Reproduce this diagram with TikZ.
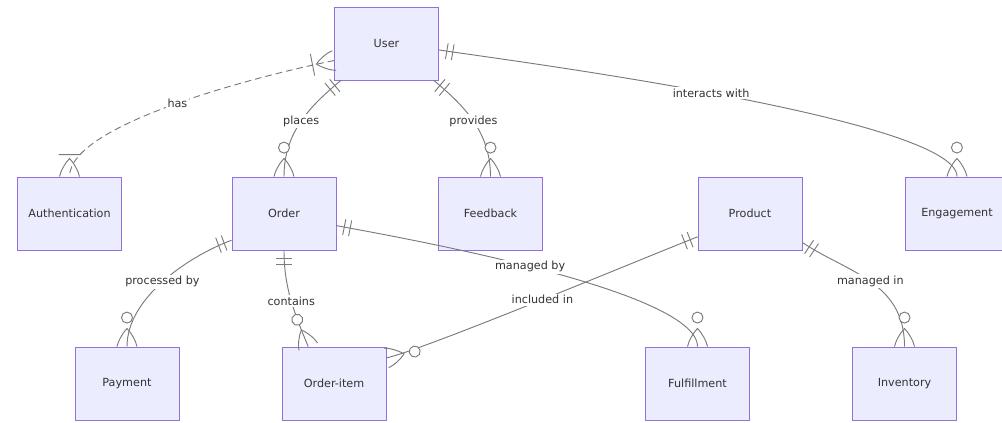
\documentclass[tikz,border=0pt]{standalone}
\usepackage{fontspec}
\setmainfont{DejaVu Sans}
\usepackage{tikz}
\usetikzlibrary{decorations.markings}
\usepackage{xcolor}
\definecolor{entfill}{HTML}{ECECFF}
\definecolor{entline}{HTML}{9370DB}
\definecolor{linkgray}{HTML}{7A7A7A}
\definecolor{txt}{HTML}{333333}
% crow's foot pieces, drawn outward from the box edge
\newcommand{\mkbars}{\draw[solid] (8,-8) -- (8,8) (14,-8) -- (14,8);}
\newcommand{\mkbar}{\draw[solid] (22,-11) -- (22,11);}
\newcommand{\mkfoot}{\draw[solid] (0,-10) .. controls (5,-9) and (13,-5) .. (18,0) .. controls (13,5) and (5,9) .. (0,10);}
\newcommand{\mkring}{\draw[solid, fill=white] (29,0) circle (5.5);}

\begin{document}
\begin{tikzpicture}[x=0.75pt, y=0.75pt, font=\fontsize{8.4}{10}\selectfont,
    ent/.style={rectangle, draw=entline, line width=0.6pt, fill=entfill, text=txt,
                minimum width=78pt, minimum height=54.75pt, inner sep=0pt},
    lbl/.style={fill=white, text=txt, inner sep=1.2pt},
    link/.style={draw=linkgray, line width=0.7pt},
    one start/.style={postaction={decorate, decoration={markings,
        mark=at position 0 with {\mkbars}}}},
    zeromany end/.style={postaction={decorate, decoration={markings,
        mark=at position 0.9999 with {\begin{scope}[xscale=-1]\mkfoot\mkring\end{scope}}}}},
    onemany start/.style={postaction={decorate, decoration={markings,
        mark=at position 0 with {\mkfoot\mkbar}}}},
    onemany end/.style={postaction={decorate, decoration={markings,
        mark=at position 0.9999 with {\begin{scope}[xscale=-1]\mkfoot\mkbar\end{scope}}}}}]
\useasboundingbox (0,0) rectangle (1002,423);

% entities
\node[ent] (user) at (386.5,379.5) {User};
\node[ent] (auth) at (69.5,209.5) {Authentication};
\node[ent] (order) at (284,209.5) {Order};
\node[ent] (feedback) at (490.5,209.5) {Feedback};
\node[ent] (product) at (750,209.5) {Product};
\node[ent] (engage) at (957,209.5) {Engagement};
\node[ent] (payment) at (127,39.5) {Payment};
\node[ent] (orderitem) at (334,39.5) {Order-item};
\node[ent] (fulfil) at (697.5,39.5) {Fulfillment};
\node[ent] (inventory) at (904.5,39.5) {Inventory};

% relations of User
\draw[link, dash pattern=on 5pt off 3pt, onemany start, onemany end]
  (user.198) .. controls +(-65,-13) and +(0,54) .. (auth.north) node[lbl, midway] {has};
\draw[link, one start, zeromany end]
  (user.219) .. controls +(-30,-25) and +(0,45) .. (order.north) node[lbl, midway] {places};
\draw[link, one start, zeromany end]
  (user.-38) .. controls +(30,-25) and +(0,45) .. (feedback.north) node[lbl, midway] {provides};
\draw[link, one start, zeromany end]
  (user.-7) .. controls +(35,-6) and +(0,60) .. (engage.north) node[lbl, midway] {interacts with};

% relations of Order
\draw[link, one start, zeromany end]
  (order.207) .. controls +(-45,-17) and +(0,48) .. (payment.north) node[lbl, midway] {processed by};
\draw[link, one start, zeromany end]
  (order.south) .. controls +(0,-39) and +(-13,32) .. (orderitem.125) node[lbl, midway] {contains};
\draw[link, one start, zeromany end]
  (order.-13) .. controls +(35,-7) and +(0,59) .. (fulfil.north) node[lbl, midway] {managed by};

% relations of Product
\draw[link, one start, zeromany end]
  (product.204) .. controls +(-39,-15) and +(40,9) .. (orderitem.26) node[lbl, midway] {included in};
\draw[link, one start, zeromany end]
  (product.-29) .. controls +(45,-30) and +(0,65) .. (inventory.north) node[lbl, midway] {managed in};
\end{tikzpicture}
\end{document}
